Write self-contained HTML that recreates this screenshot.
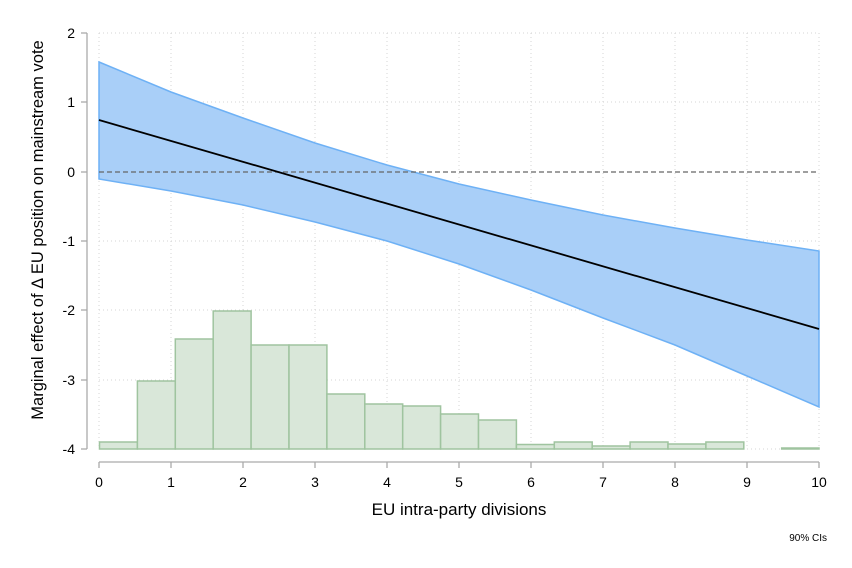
<!DOCTYPE html>
<html><head><meta charset="utf-8"><style>body{margin:0;background:#fff}svg{display:block;font-family:"Liberation Sans",Arial,sans-serif}</style></head><body>
<svg width="852" height="568" viewBox="0 0 852 568" xmlns="http://www.w3.org/2000/svg">
<rect width="852" height="568" fill="#fff"/>
<g stroke="#d4d4d4" stroke-width="1" stroke-dasharray="1,3">
<line x1="99" y1="33" x2="819" y2="33"/><line x1="99" y1="102" x2="819" y2="102"/><line x1="99" y1="241" x2="819" y2="241"/><line x1="99" y1="310" x2="819" y2="310"/><line x1="99" y1="380" x2="819" y2="380"/><line x1="99" y1="449" x2="819" y2="449"/>
<line x1="99" y1="33" x2="99" y2="449"/><line x1="171" y1="33" x2="171" y2="449"/><line x1="243" y1="33" x2="243" y2="449"/><line x1="315" y1="33" x2="315" y2="449"/><line x1="387" y1="33" x2="387" y2="449"/><line x1="459" y1="33" x2="459" y2="449"/><line x1="531" y1="33" x2="531" y2="449"/><line x1="603" y1="33" x2="603" y2="449"/><line x1="675" y1="33" x2="675" y2="449"/><line x1="747" y1="33" x2="747" y2="449"/><line x1="819" y1="33" x2="819" y2="449"/>
</g>
<g fill="#d9e7d9" stroke="#9fc49f" stroke-width="1.5">
<rect x="99.5" y="442" width="37.9" height="7"/>
<rect x="137.4" y="381" width="37.9" height="68"/>
<rect x="175.3" y="339" width="37.9" height="110"/>
<rect x="213.2" y="311" width="37.9" height="138"/>
<rect x="251.1" y="345" width="37.9" height="104"/>
<rect x="289" y="345" width="37.9" height="104"/>
<rect x="326.9" y="394" width="37.9" height="55"/>
<rect x="364.8" y="404" width="37.9" height="45"/>
<rect x="402.7" y="406" width="37.9" height="43"/>
<rect x="440.6" y="414" width="37.9" height="35"/>
<rect x="478.5" y="420" width="37.9" height="29"/>
<rect x="516.4" y="444.5" width="37.9" height="4.5"/>
<rect x="554.3" y="442" width="37.9" height="7"/>
<rect x="592.2" y="446" width="37.9" height="3"/>
<rect x="630.1" y="442" width="37.9" height="7"/>
<rect x="668" y="444" width="37.9" height="5"/>
<rect x="705.9" y="442" width="37.9" height="7"/>
<rect x="781.7" y="448" width="37.3" height="1"/>
</g>
<path d="M99,62 L171,92 L243,118 L315,143 L387,165 L459,184 L531,200 L603,215 L675,228 L747,240 L819,251 L819,407 L747,376 L675,345 L603,318 L531,290 L459,264 L387,241 L315,222 L243,205 L171,191 L99,179 Z" fill="#a9cff8" stroke="#6eb1f5" stroke-width="1.5"/>
<line x1="99" y1="172" x2="819" y2="172" stroke="#666" stroke-width="1.2" stroke-dasharray="5,3"/>
<line x1="99" y1="120" x2="819" y2="329" stroke="#000" stroke-width="1.8"/>
<g stroke="#aaa" stroke-width="1.3">
<line x1="87" y1="33" x2="87" y2="449"/>
<line x1="81" y1="33" x2="87" y2="33"/><line x1="81" y1="102" x2="87" y2="102"/><line x1="81" y1="172" x2="87" y2="172"/><line x1="81" y1="241" x2="87" y2="241"/><line x1="81" y1="310" x2="87" y2="310"/><line x1="81" y1="380" x2="87" y2="380"/><line x1="81" y1="449" x2="87" y2="449"/>
<line x1="99" y1="462" x2="819" y2="462"/>
<line x1="99" y1="462" x2="99" y2="468"/><line x1="171" y1="462" x2="171" y2="468"/><line x1="243" y1="462" x2="243" y2="468"/><line x1="315" y1="462" x2="315" y2="468"/><line x1="387" y1="462" x2="387" y2="468"/><line x1="459" y1="462" x2="459" y2="468"/><line x1="531" y1="462" x2="531" y2="468"/><line x1="603" y1="462" x2="603" y2="468"/><line x1="675" y1="462" x2="675" y2="468"/><line x1="747" y1="462" x2="747" y2="468"/><line x1="819" y1="462" x2="819" y2="468"/>
</g>
<g font-size="14" fill="#000" text-anchor="end">
<text x="75" y="38">2</text><text x="75" y="107">1</text><text x="75" y="177">0</text><text x="75" y="246">-1</text><text x="75" y="315">-2</text><text x="75" y="385">-3</text><text x="75" y="454">-4</text>
</g>
<g font-size="14" fill="#000" text-anchor="middle">
<text x="99" y="487">0</text><text x="171" y="487">1</text><text x="243" y="487">2</text><text x="315" y="487">3</text><text x="387" y="487">4</text><text x="459" y="487">5</text><text x="531" y="487">6</text><text x="603" y="487">7</text><text x="675" y="487">8</text><text x="747" y="487">9</text><text x="819" y="487">10</text>
</g>
<text x="459" y="515" font-size="17" text-anchor="middle">EU intra-party divisions</text>
<text transform="translate(43,230) rotate(-90)" font-size="16.5" text-anchor="middle">Marginal effect of Δ EU position on mainstream vote</text>
<text x="827" y="541" font-size="10" text-anchor="end">90% CIs</text>
</svg>
</body></html>
